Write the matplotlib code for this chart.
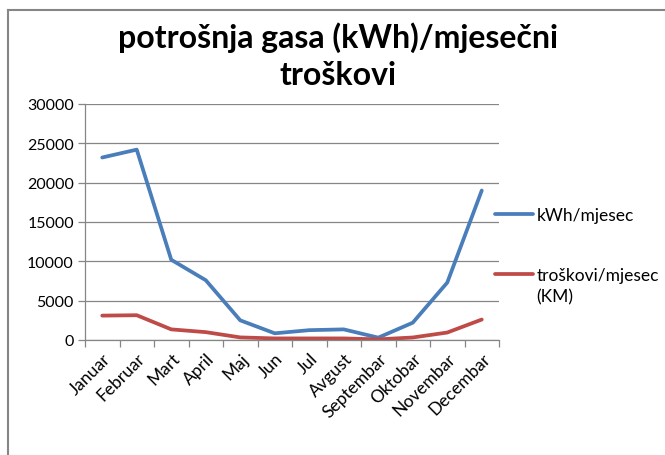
import matplotlib
matplotlib.use('Agg')
from matplotlib import pyplot as plt
from matplotlib.lines import Line2D

plt.rcParams['font.family'] = ['Lato', 'DejaVu Sans']

months = ['Januar', 'Februar', 'Mart', 'April', 'Maj', 'Jun', 'Jul',
          'Avgust', 'Septembar', 'Oktobar', 'Novembar', 'Decembar']
kwh = [23200, 24200, 10200, 7600, 2500, 850, 1250, 1350, 300, 2200, 7300, 19000]
troskovi = [3100, 3150, 1350, 1000, 330, 200, 200, 200, 80, 320, 950, 2600]
yticks = [0, 5000, 10000, 15000, 20000, 25000, 30000]

title = 'potrošnja gasa (kWh)/mjesečni\ntroškovi'
labels = ['kWh/mjesec', 'troškovi/mjesec']
label_extra = '(KM)'

blue = '#4a7ebb'
red = '#be4b48'
grey = '#868686'

fig = plt.figure(figsize=(6.65, 4.56), dpi=100)
ax = fig.add_axes([85/665, 1 - 341/456, 414/665, 236/456])

x = range(len(months))
l1, = ax.plot(x, kwh, color=blue, lw=2.7, solid_joinstyle='round', solid_capstyle='round')
l2, = ax.plot(x, troskovi, color=red, lw=2.7, solid_joinstyle='round', solid_capstyle='round')

ax.set_xlim(-0.5, 11.5)
ax.set_ylim(0, 30000)
ax.set_yticks(yticks)
ax.set_yticklabels([str(v) for v in yticks], fontsize=11.5)
ax.grid(axis='y', color=grey, lw=0.9)
ax.set_axisbelow(True)

ax.set_xticks(list(x))
ax.set_xticklabels(months, fontsize=12.5, rotation=45, ha='right', rotation_mode='anchor')
ax.tick_params(axis='x', which='major', length=0, pad=7)
ax.set_xticks([i - 0.5 for i in range(13)], minor=True)
ax.tick_params(axis='x', which='minor', length=5, color=grey, width=0.9)
ax.tick_params(axis='y', length=5, color=grey, width=0.9, pad=3)

for s in ['top', 'right']:
    ax.spines[s].set_visible(False)
for s in ['left', 'bottom']:
    ax.spines[s].set_color(grey)
    ax.spines[s].set_linewidth(0.9)

fig.text(0.508, 1 - 56/456, title, ha='center', va='center', fontsize=23,
         fontweight='bold', linespacing=1.35)

leg1 = ax.legend([l1], labels[:1], loc='center left', bbox_to_anchor=(495/665, 1 - 216/456),
                 bbox_transform=fig.transFigure, frameon=False, fontsize=12.5,
                 handlelength=2.2, handletextpad=0.2, borderpad=0, borderaxespad=0)
ax.add_artist(leg1)
ax.legend([l2], labels[1:], loc='center left', bbox_to_anchor=(495/665, 1 - 276/456),
          bbox_transform=fig.transFigure, frameon=False, fontsize=12.5,
          handlelength=2.2, handletextpad=0.2, borderpad=0, borderaxespad=0)
fig.text(536/665, 1 - 297/456, label_extra, ha='left', va='center', fontsize=12.5)

fig.add_artist(Line2D([8/665, 8/665], [0, 1 - 11/456], color=grey, lw=1.5))
fig.add_artist(Line2D([8/665, 1], [1 - 11/456, 1 - 11/456], color=grey, lw=1.5))

fig.savefig('out.png', dpi=100)
